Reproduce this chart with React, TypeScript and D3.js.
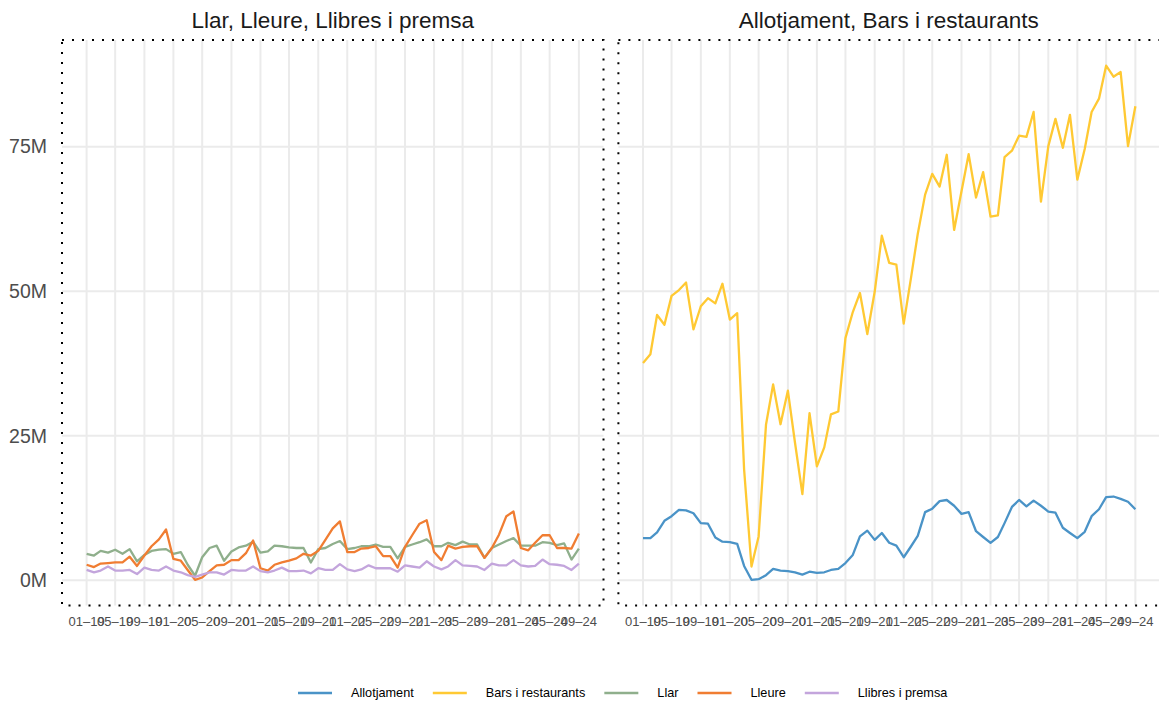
import React from "react";
import * as d3 from "d3";

// ---- data (values in millions) ----
const startMonth = new Date(2019, 0, 1);
const endMonth = new Date(2024, 9, 1); // exclusive -> last month Sep 2024
const months: Date[] = d3.timeMonth.range(startMonth, endMonth);

const allotjament = [
  7.3, 7.3, 8.3, 10.3, 11.1, 12.2, 12.1, 11.6, 9.9, 9.8,
  7.4, 6.7, 6.6, 6.3, 2.5, 0.1, 0.2, 0.9, 2.0, 1.7,
  1.6, 1.4, 1.0, 1.5, 1.3, 1.4, 1.8, 2.0, 3.0, 4.4,
  7.6, 8.6, 7.0, 8.2, 6.5, 6.0, 4.0, 5.9, 7.7, 11.8,
  12.4, 13.7, 13.9, 12.9, 11.5, 11.8, 8.5, 7.5, 6.5, 7.5,
  9.9, 12.7, 13.9, 12.8, 13.8, 12.9, 11.9, 11.7, 9.1, 8.2,
  7.3, 8.4, 11.1, 12.3, 14.4, 14.5, 14.1, 13.6, 12.3,
];
const barsRestaurants = [
  37.6, 39.1, 45.9, 44.2, 49.2, 50.2, 51.5, 43.4, 47.4, 48.8, 47.9, 51.3, 45.1, 46.2, 19.2, 2.4, 7.6,
  26.9, 33.9, 27.0, 32.8, 23.8, 14.9, 28.9, 19.7, 23.0, 28.7, 29.2, 41.9, 46.4, 49.7, 42.6, 49.9, 59.6,
  54.9, 54.6, 44.4, 52.4, 59.9, 66.7, 70.3, 68.1, 73.6, 60.6, 67.3, 73.7, 66.2, 70.6, 62.9, 63.1, 73.2,
  74.3, 76.9, 76.7, 81.0, 65.5, 75.1, 79.8, 74.8, 80.5, 69.3, 74.6, 81.0, 83.3, 89.0, 87.1, 87.9, 75.1, 82.0,
];
const llar = [
  4.6, 4.3, 5.1, 4.8, 5.3, 4.6, 5.4, 3.3, 4.4, 5.1, 5.3, 5.4, 4.6, 4.9, 2.7, 0.8, 4.0, 5.6,
  6.0, 3.4, 5.0, 5.7, 6.0, 6.7, 4.8, 5.0, 6.0, 5.9, 5.7, 5.6, 5.6, 3.1, 5.4, 5.6, 6.3, 6.8,
  5.4, 5.6, 5.9, 5.9, 6.2, 5.8, 5.8, 3.8, 5.8, 6.2, 6.6, 7.1, 5.9, 5.9, 6.5, 6.1, 6.7,
  6.2, 6.2, 3.9, 5.6, 6.2, 6.8, 7.3, 6.0, 6.0, 6.0, 6.6, 6.5, 6.1, 6.4, 3.6, 5.5,
];
const lleure = [
  2.7, 2.3, 2.9, 3.0, 3.1, 3.1, 4.1, 2.5, 4.3, 5.9, 7.1, 8.8, 3.7, 3.4, 1.8, 0.1, 0.5, 1.6,
  2.6, 2.7, 3.5, 3.5, 4.7, 6.9, 2.1, 1.7, 2.7, 3.1, 3.4, 3.8, 4.6, 4.3, 5.1, 7.0, 9.0, 10.2,
  4.9, 4.9, 5.5, 5.6, 5.9, 4.2, 4.2, 2.2, 5.8, 7.8, 9.8, 10.4, 4.9, 3.5, 6.0, 5.5, 5.8,
  5.9, 5.9, 3.9, 5.6, 7.9, 11.1, 11.9, 5.6, 5.2, 6.5, 7.8, 7.8, 5.6, 5.6, 5.5, 8.1,
];
const llibresPremsa = [
  1.8, 1.4, 1.7, 2.4, 1.7, 1.7, 1.8, 1.1, 2.2, 1.8, 1.7, 2.4, 1.7, 1.4, 0.9, 0.6, 1.0, 1.4,
  1.4, 1.0, 1.8, 1.7, 1.7, 2.4, 1.6, 1.4, 1.7, 2.2, 1.6, 1.6, 1.7, 1.2, 2.1, 1.8, 1.8, 2.8,
  1.9, 1.6, 1.9, 2.6, 2.1, 2.1, 2.1, 1.5, 2.6, 2.4, 2.2, 3.3, 2.4, 1.9, 2.4, 3.5, 2.6,
  2.5, 2.4, 1.8, 2.9, 2.6, 2.6, 3.5, 2.6, 2.4, 2.5, 3.6, 2.8, 2.7, 2.5, 1.8, 2.9,
];

const seriesNames = ["Allotjament", "Bars i restaurants", "Llar", "Lleure", "Llibres i premsa"];
const seriesColors = ["#4A93C7", "#FFC933", "#8FAF8C", "#F07D32", "#C3A5DC"];
const seriesValues = [allotjament, barsRestaurants, llar, lleure, llibresPremsa];

const panelTitles = ["Llar, Lleure, Llibres i premsa", "Allotjament, Bars i restaurants"];
const panelSeries = [
  ["Llar", "Lleure", "Llibres i premsa"],
  ["Allotjament", "Bars i restaurants"],
];
const yTicks = [0, 25, 50, 75];

// ---- layout ----
const W = 1159;
const H = 702;
const panels = [
  { left: 62, right: 603.5 },
  { left: 618.4, right: 1160 },
];
const panelTop = 40;
const panelBottom = 605.5;
const FONT = "'Liberation Sans', Arial, Helvetica, sans-serif";

const charW: Record<string, number> = {
  A: 0.667, B: 0.667, L: 0.556, l: 0.222, o: 0.556, t: 0.278, j: 0.222, a: 0.556,
  m: 0.833, e: 0.556, n: 0.556, r: 0.333, s: 0.5, i: 0.222, u: 0.556, b: 0.556,
  p: 0.556, " ": 0.278,
};

export default function App() {
  const allVals = seriesValues.flat();
  const [vmin, vmax] = d3.extent(allVals) as [number, number];
  const ext = (vmax - vmin) * 0.05;
  const y = d3.scaleLinear().domain([vmin - ext, vmax + ext]).range([panelBottom, panelTop]);

  const t0 = months[0].getTime();
  const t1 = months[months.length - 1].getTime();
  const tExt = (t1 - t0) * 0.05;
  const xTicks = d3.timeMonth.every(4)!.range(months[0], new Date(t1 + 1));
  const fmt = d3.timeFormat("%m–%y");

  // legend layout
  const legendFont = 12.7;
  const keyLen = 34;
  const keyGap = 19;
  const itemGap = 19;
  const measure = (s: string) => {
    let total = 0;
    for (const ch of s) total += charW[ch] ?? 0.556;
    return total * legendFont;
  };
  let cursor = 298;
  const legendItems = seriesNames.map((name, k) => {
    const item = { name, color: seriesColors[k], x: cursor };
    cursor += keyLen + keyGap + measure(name) + itemGap;
    return item;
  });
  const legendY = 693;

  return (
    <svg
      width={W}
      height={H}
      style={{ position: "absolute", left: 0, top: 0, background: "#fff" }}
      fontFamily={FONT}
    >
      {panels.map((p, pi) => {
        const x = d3
          .scaleTime()
          .domain([new Date(t0 - tExt), new Date(t1 + tExt)])
          .range([p.left, p.right]);
        const line = d3
          .line<number>()
          .x((_, i) => x(months[i]))
          .y((d) => y(d));
        return (
          <g key={pi}>
            {yTicks.map((t) => (
              <line
                key={"h" + t}
                x1={p.left}
                x2={p.right}
                y1={y(t)}
                y2={y(t)}
                stroke="#EBEBEB"
                strokeWidth={2}
              />
            ))}
            {xTicks.map((d, i) => (
              <line
                key={"v" + i}
                x1={x(d)}
                x2={x(d)}
                y1={panelTop}
                y2={panelBottom}
                stroke="#EBEBEB"
                strokeWidth={2}
              />
            ))}
            {panelSeries[pi].map((name) => {
              const k = seriesNames.indexOf(name);
              return (
                <path
                  key={name}
                  d={line(seriesValues[k]) || ""}
                  fill="none"
                  stroke={seriesColors[k]}
                  strokeWidth={2.3}
                  strokeLinejoin="round"
                />
              );
            })}
            <rect
              x={p.left}
              y={panelTop}
              width={p.right - p.left}
              height={panelBottom - panelTop}
              fill="none"
              stroke="#000"
              strokeWidth={2}
              strokeDasharray="2 8"
            />
            {xTicks.map((d, i) => (
              <text
                key={"xl" + i}
                x={x(d)}
                y={626}
                textAnchor="middle"
                fontSize={13}
                fill="#4D4D4D"
              >
                {fmt(d)}
              </text>
            ))}
            <text
              x={(p.left + Math.min(p.right, W)) / 2}
              y={28}
              textAnchor="middle"
              fontSize={22.5}
              fill="#1A1A1A"
            >
              {panelTitles[pi]}
            </text>
          </g>
        );
      })}
      {yTicks.map((t) => (
        <text
          key={"yl" + t}
          x={47}
          y={y(t)}
          dy="0.35em"
          textAnchor="end"
          fontSize={19.5}
          fill="#4D4D4D"
        >
          {t + "M"}
        </text>
      ))}
      {legendItems.map((it) => (
        <g key={it.name}>
          <line
            x1={it.x}
            x2={it.x + keyLen}
            y1={legendY}
            y2={legendY}
            stroke={it.color}
            strokeWidth={2.5}
          />
          <text
            x={it.x + keyLen + keyGap}
            y={legendY}
            dy="0.35em"
            fontSize={legendFont}
            fill="#000"
          >
            {it.name}
          </text>
        </g>
      ))}
    </svg>
  );
}
